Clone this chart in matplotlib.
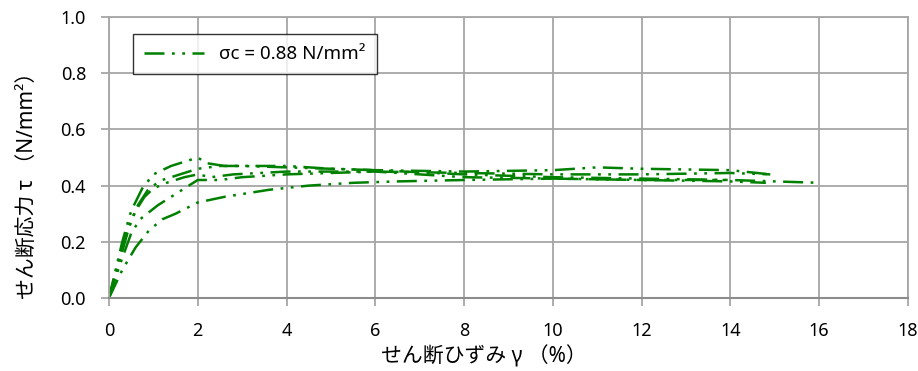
import matplotlib.pyplot as plt

plt.rcParams['font.family'] = ['Noto Sans', 'Noto Sans CJK JP', 'DejaVu Sans']

# せん断ひずみ γ (%) と せん断応力 τ (N/mm2) : 試験体ごと
gamma_1 = [0, 0.15, 0.3, 0.5, 0.75, 1.0, 1.4, 1.8, 2.0, 2.2, 2.6, 3, 4, 5, 6, 8, 10, 12, 14, 16]
tau_1 = [0, 0.10, 0.20, 0.31, 0.39, 0.44, 0.47, 0.49, 0.50, 0.48, 0.47, 0.47, 0.47, 0.46, 0.455, 0.44, 0.43, 0.425, 0.42, 0.41]

gamma_2 = [0, 0.2, 0.4, 0.65, 0.9, 1.2, 1.6, 2.0, 2.5, 3, 4, 6, 8, 10, 11, 12, 14, 14.9]
tau_2 = [0, 0.12, 0.24, 0.33, 0.39, 0.42, 0.44, 0.46, 0.47, 0.47, 0.465, 0.455, 0.45, 0.455, 0.465, 0.46, 0.455, 0.44]

gamma_3 = [0, 0.2, 0.45, 0.6, 0.8, 1.0, 1.3, 1.7, 2.0, 2.3, 2.8, 4, 6, 8, 10, 12, 14, 14.8]
tau_3 = [0, 0.11, 0.25, 0.31, 0.36, 0.39, 0.41, 0.43, 0.44, 0.43, 0.44, 0.45, 0.45, 0.43, 0.425, 0.42, 0.415, 0.41]

gamma_4 = [0, 0.25, 0.5, 0.7, 1.1, 1.5, 2.0, 2.5, 3, 4, 6, 8, 10, 12, 14, 14.9]
tau_4 = [0, 0.12, 0.23, 0.28, 0.33, 0.37, 0.42, 0.42, 0.43, 0.44, 0.45, 0.445, 0.44, 0.44, 0.445, 0.44]

gamma_5 = [0, 0.3, 0.6, 0.9, 1.2, 1.5, 2.0, 2.6, 3.0, 3.6, 4.5, 5.5, 6.5, 8, 10, 12, 14]
tau_5 = [0, 0.10, 0.18, 0.24, 0.28, 0.30, 0.34, 0.36, 0.37, 0.385, 0.40, 0.41, 0.415, 0.42, 0.425, 0.42, 0.42]

curves = [(gamma_1, tau_1), (gamma_2, tau_2), (gamma_3, tau_3), (gamma_4, tau_4), (gamma_5, tau_5)]
legend_label = 'σc = 0.88 N/mm²'

fig = plt.figure(figsize=(9.18, 3.71), dpi=100)
ax = fig.add_axes([0.1187, 0.1968, 0.8703, 0.7572])

dash = (0, (8, 3, 1.1, 3, 1.1, 3))
for i, (g, t) in enumerate(curves):
    ax.plot(g, t, color='#008000', linestyle=dash, linewidth=1.8,
            label=legend_label if i == 0 else None)

ax.set_xlim(0, 18)
ax.set_ylim(0, 1.0)
ax.set_xticks(range(0, 19, 2))
ax.set_yticks([0.0, 0.2, 0.4, 0.6, 0.8, 1.0])
ax.set_yticklabels(['0.0', '0.2', '0.4', '0.6', '0.8', '1.0'])
ax.grid(True, color='#a6a6a6', linewidth=1.3)
ax.set_axisbelow(True)
for s in ['top', 'right', 'left']:
    ax.spines[s].set_color('#a6a6a6')
    ax.spines[s].set_linewidth(1.3)
ax.spines['bottom'].set_color('#8c8c8c')
ax.spines['bottom'].set_linewidth(1.5)
ax.tick_params(axis='both', colors='#a6a6a6', labelcolor='black', labelsize=13,
               length=5.5, width=1.3)
ax.tick_params(axis='y', pad=11)
ax.tick_params(axis='x', pad=12)

ax.set_xlabel('せん断ひずみ γ （%）', fontsize=15)
ax.xaxis.set_label_coords(0.469, -0.168)
ax.set_ylabel('せん断応力 τ （N/mm²）', fontsize=15)
ax.yaxis.set_label_coords(-0.088, 0.42)

leg = ax.legend(loc='upper left', bbox_to_anchor=(0.03, 0.94), fontsize=13.5,
                frameon=True, fancybox=False, handlelength=3.2,
                borderpad=0.6, borderaxespad=0)
leg.get_frame().set_edgecolor('black')
leg.get_frame().set_linewidth(1.0)

fig.savefig('out.png', dpi=100)
